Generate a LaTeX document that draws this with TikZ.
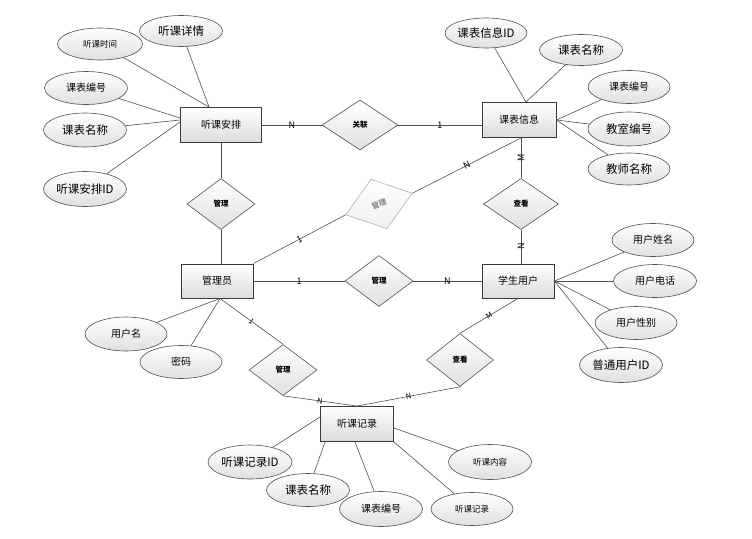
\documentclass[tikz,border=0pt]{standalone}
\usepackage{fontspec}
\setmainfont{Noto Sans CJK SC}
\usetikzlibrary{shapes.geometric}
\definecolor{edgecol}{HTML}{505050}
\definecolor{boxcol}{HTML}{3A3A3A}
\tikzset{
  entity/.style={rectangle, draw=boxcol, line width=0.9pt, top color=white, bottom color=black!14,
    minimum width=73pt, minimum height=35pt, inner sep=0pt, font=\fontsize{10}{12}\selectfont},
  attr/.style={ellipse, draw=edgecol, line width=0.6pt, top color=white, bottom color=black!12,
    minimum width=83pt, minimum height=33pt, inner sep=0pt},
  big/.style={font=\fontsize{11.5}{13}\selectfont},
  med/.style={font=\fontsize{10}{12}\selectfont},
  sml/.style={font=\fontsize{8.5}{10}\selectfont},
  rel/.style={diamond, draw=edgecol, line width=0.6pt, top color=white, bottom color=black!12,
    minimum width=68pt, minimum height=51pt, inner sep=0pt, font=\fontsize{7.5}{9}\selectfont\bfseries},
  conn/.style={draw=edgecol, line width=0.6pt},
  lab/.style={font=\fontsize{9}{10}\selectfont, inner sep=0.5pt},
  labs/.style={font=\fontsize{7.5}{9}\selectfont, inner sep=0.5pt}
}
\begin{document}
\begin{tikzpicture}[x=1pt,y=-1pt]
\useasboundingbox[fill=white] (0,0) rectangle (752,538);
% entities
\node[entity, minimum width=81pt] (tka) at (221,125) {听课安排};
\node[entity, minimum width=74pt] (kb) at (519,120) {课表信息};
\node[entity, minimum width=72pt, minimum height=34pt] (gly) at (217,281) {管理员};
\node[entity, minimum width=72pt, minimum height=34pt] (xs) at (518,281) {学生用户};
\node[entity] (tkj) at (357,424) {听课记录};
% relations
\node[rel, minimum width=76pt, minimum height=50pt] (gl) at (360,125) {关联};
\node[rel] (gl1) at (221,204) {管理};
\node[rel, rotate=18, minimum width=70pt, minimum height=52pt, draw=black!30, text=black!45, bottom color=black!6] (gl2) at (379,204) {管理};
\node[rel, minimum width=75pt] (ck1) at (521,204) {查看};
\node[rel] (gl3) at (379,281) {管理};
\node[rel] (gl4) at (283,370) {管理};
\node[rel, minimum width=67pt, minimum height=53pt] (ck2) at (460,360) {查看};
% attributes of 听课安排
\node[attr, big, minimum height=31pt] (a1) at (181,31) {听课详情};
\node[attr, sml, minimum width=85pt, minimum height=32pt] (a2) at (100,44) {听课时间};
\node[attr, med] (a3) at (86,88) {课表编号};
\node[attr, big, minimum height=34pt] (a4) at (85,130) {课表名称};
\node[attr, big, minimum height=35pt] (a5) at (85,189) {听课安排ID};
% attributes of 课表信息
\node[attr, big, minimum width=82pt, minimum height=30pt] (b1) at (486,33) {课表信息ID};
\node[attr, big, minimum height=31pt] (b2) at (581,50) {课表名称};
\node[attr, med, minimum width=82pt] (b3) at (629,87) {课表编号};
\node[attr, big, minimum width=82pt, minimum height=34pt] (b4) at (629,129) {教室编号};
\node[attr, big, minimum width=82pt, minimum height=32pt] (b5) at (629,169) {教师名称};
% attributes of 学生用户
\node[attr, med, minimum width=82pt] (c1) at (653,240) {用户姓名};
\node[attr, med] (c2) at (655,281) {用户电话};
\node[attr, med, minimum width=82pt] (c3) at (636,323) {用户性别};
\node[attr, big, minimum height=35pt] (c4) at (621,365) {普通用户ID};
% attributes of 听课记录
\node[attr, big, minimum width=84pt, minimum height=34pt] (d1) at (250,462) {听课记录ID};
\node[attr, big] (d2) at (308,490) {课表名称};
\node[attr, med, minimum height=35pt] (d3) at (381,509) {课表编号};
\node[attr, sml, minimum width=82pt] (d4) at (472,509) {听课记录};
\node[attr, sml, minimum height=35pt] (d5) at (490,462) {听课内容};
% attributes of 管理员
\node[attr, med, minimum width=82pt, minimum height=34pt] (e1) at (126,334) {用户名};
\node[attr, med, minimum width=82pt] (e2) at (181,362) {密码};
% attribute connectors
\draw[conn] (a1) -- ([xshift=-12pt]tka.north);
\draw[conn] (a2) -- ([xshift=-12pt]tka.north);
\draw[conn] (a3) -- ([yshift=7pt]tka.west);
\draw[conn] (a4) -- ([yshift=5pt]tka.west);
\draw[conn] (a5) -- ([yshift=3pt]tka.west);
\draw[conn] (b1) -- ([xshift=7pt]kb.north);
\draw[conn] (b2) -- ([xshift=7pt]kb.north);
\draw[conn] (b3) -- (kb.east);
\draw[conn] (b4) -- (kb.east);
\draw[conn] (b5) -- (kb.east);
\draw[conn] (c1) -- (xs.east);
\draw[conn] (c2) -- (xs.east);
\draw[conn] (c3) -- (xs.east);
\draw[conn] (c4) -- (xs.east);
\draw[conn] (d1) -- ([yshift=7pt]tkj.west);
\draw[conn] (d2) -- ([xshift=5pt]tkj.south west);
\draw[conn] (d3) -- ([xshift=-2pt]tkj.south);
\draw[conn] (d4) -- (tkj.south east);
\draw[conn] (d5) -- ([yshift=-4pt]tkj.east);
\draw[conn] (e1) -- ([xshift=3pt]gly.south);
\draw[conn] (e2) -- ([xshift=3pt]gly.south);
% relationship connectors
\draw[conn] (tka) -- node[lab]{N} (gl);
\draw[conn] (gl.east) -- node[lab]{1} (gl.east -| kb.west);
\draw[conn] (tka.south -| gl1) -- (gl1.north);
\draw[conn] (gl1.south) -- (gl1.south |- gly.north);
\draw[conn] (gly) -- node[lab]{1} (gl3);
\draw[conn] (gl3) -- node[lab]{N} (xs);
\draw[conn] (gly.north east) -- node[lab, sloped]{1} (gl2.west);
\draw[conn] (gl2.east) -- node[lab, sloped]{N} (kb.south -| ck1);
\draw[conn] (kb.south -| ck1) -- node[lab, rotate=90]{M} (ck1.north);
\draw[conn] (ck1.south) -- node[lab, rotate=90]{N} (ck1.south |- xs.north);
\draw[conn] (xs.south) -- node[labs, sloped]{M} (ck2.north);
\draw[conn] (ck2.south) -- node[labs, sloped]{N} (tkj.north);
\draw[conn] ([xshift=3pt]gly.south) -- node[labs, sloped]{1} (gl4.north);
\draw[conn] (gl4.south) -- node[labs, sloped]{N} (tkj.north);
\end{tikzpicture}
\end{document}
